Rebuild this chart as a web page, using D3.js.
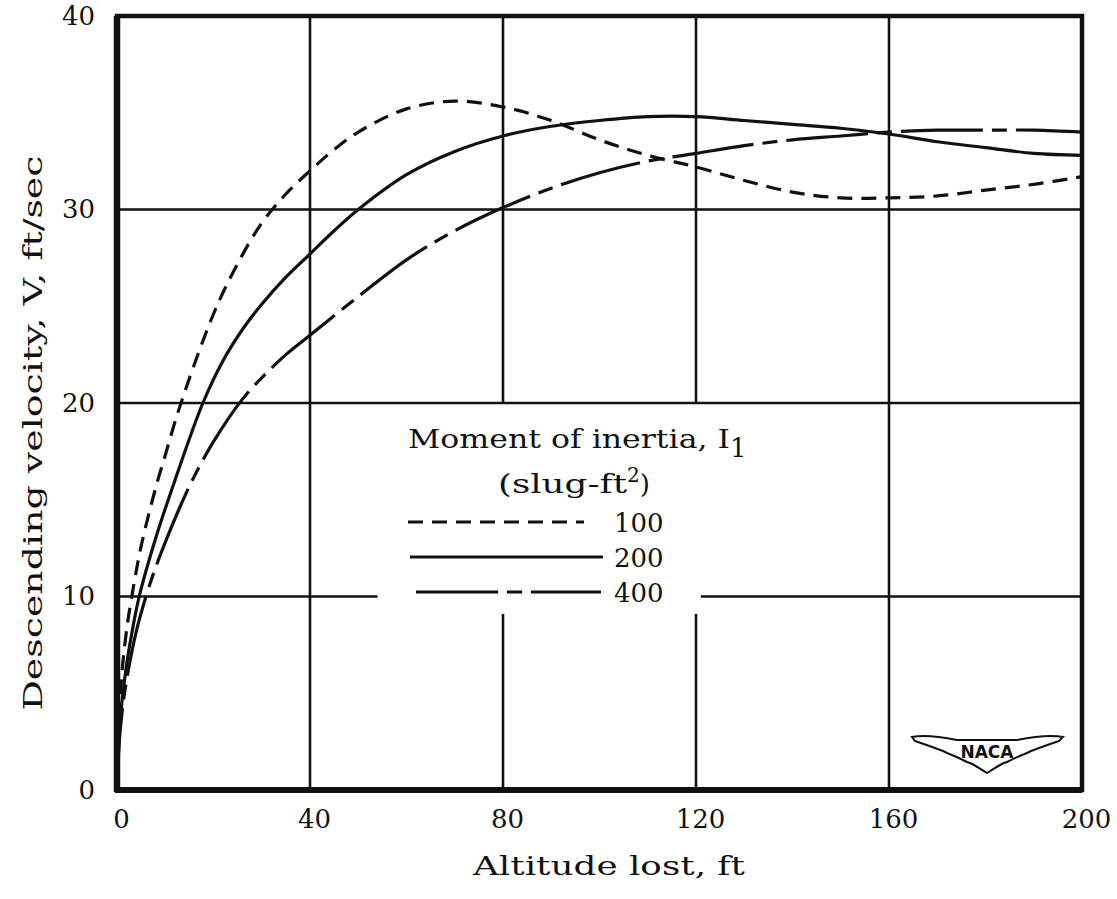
<!DOCTYPE html>
<html><head><meta charset="utf-8">
<script src="https://cdn.jsdelivr.net/npm/d3@7"></script>
<style>
html,body{margin:0;padding:0;background:#fff;}
text{font-family:"DejaVu Serif",serif;fill:#111;}
</style></head>
<body><svg id="c" width="1117" height="899"></svg>
<script>
// ---- data ----
const xTicks = [0, 40, 80, 120, 160, 200];
const yTicks = [0, 10, 20, 30, 40];
const xTitle = "Altitude lost, ft";
const yTitle = "Descending velocity, V, ft/sec";
const legendTitle = "Moment of inertia, I";
const legendUnit = "(slug-ft";
const seriesNames = ["100", "200", "400"];
const alt100 = [0,0.5,1,2,3,5,8,10,13,20,25,30,35,40,45,50,60,70,80,90,100,110,120,130,140,150,160,170,180,190,200];
const vel100 = [0,4,6,8.3,9.9,12.6,15.6,17.3,19.8,24.6,27.2,29.3,30.8,32,33.1,34,35.2,35.6,35.3,34.6,33.6,32.8,32.2,31.5,30.9,30.6,30.6,30.7,31.0,31.3,31.7];
const alt200 = [0,0.5,1,2,3,4.6,8,12,17.8,22,26,30,35,40,45,50,60,70,80,90,100,110,120,130,140,150,160,170,180,190,200];
const vel200 = [0,3,4.5,6.5,8,10,13,16,20,22.2,23.8,25.1,26.5,27.7,28.9,30,31.8,33,33.8,34.3,34.6,34.8,34.8,34.6,34.4,34.2,33.9,33.5,33.2,32.9,32.8];
const alt400 = [0,0.5,1,2,4,6,8,10,13,16,20,26,30,35,40,50,60,70,80,90,100,110,120,130,140,150,160,170,180,190,200];
const vel400 = [0,2.6,3.9,5.7,8.2,10,11.5,12.8,14.6,16.2,18,20.2,21.3,22.5,23.5,25.5,27.4,28.9,30.1,31.1,31.9,32.5,32.9,33.3,33.6,33.8,34.0,34.1,34.1,34.1,34.0];

// ---- layout ----
const svg = d3.select("#c");
const L = 117, R = 1082, T = 16, B = 790;
const x = d3.scaleLinear().domain([0, 200]).range([L, R]);
const y = d3.scaleLinear().domain([0, 40]).range([B, T]);

const series = [
  {name: seriesNames[0], xs: alt100, ys: vel100, dash: "15,9"},
  {name: seriesNames[1], xs: alt200, ys: vel200, dash: null},
  {name: seriesNames[2], xs: alt400, ys: vel400, dash: "82,9,15,9"}
];

// grid (with interruptions around the legend)
const g = svg.append("g").attr("stroke", "#111").attr("stroke-width", 2.6).attr("fill", "none");
[40, 160].forEach(v => g.append("line").attr("x1", x(v)).attr("x2", x(v)).attr("y1", y(40)).attr("y2", y(0)));
[80, 120].forEach(v => {
  g.append("line").attr("x1", x(v)).attr("x2", x(v)).attr("y1", y(40)).attr("y2", y(20));
  g.append("line").attr("x1", x(v)).attr("x2", x(v)).attr("y1", y(9.1)).attr("y2", y(0));
});
[20, 30].forEach(v => g.append("line").attr("x1", x(0)).attr("x2", x(200)).attr("y1", y(v)).attr("y2", y(v)));
g.append("line").attr("x1", x(0)).attr("x2", x(54)).attr("y1", y(10)).attr("y2", y(10));
g.append("line").attr("x1", x(121)).attr("x2", x(200)).attr("y1", y(10)).attr("y2", y(10));

// curves
const line = d3.line().x(d => x(d[0])).y(d => y(d[1])).curve(d3.curveCatmullRom.alpha(0.5));
series.forEach(s => {
  const pts = s.xs.map((v, i) => [v, s.ys[i]]);
  svg.append("path").datum(pts).attr("d", line).attr("fill", "none")
    .attr("stroke", "#111").attr("stroke-width", 3.2)
    .attr("stroke-dasharray", s.dash);
});

// frame
svg.append("rect").attr("x", L).attr("y", T).attr("width", R - L).attr("height", B - T)
  .attr("fill", "none").attr("stroke", "#111").attr("stroke-width", 4.5);
svg.append("line").attr("x1", L).attr("x2", L).attr("y1", T).attr("y2", B + 2).attr("stroke", "#111").attr("stroke-width", 6.5);
svg.append("line").attr("x1", L - 2).attr("x2", R).attr("y1", B).attr("y2", B).attr("stroke", "#111").attr("stroke-width", 6);

// axes (labels only)
const fs = 26;
const xa = svg.append("g").attr("transform", `translate(0,${B})`)
  .call(d3.axisBottom(x).tickValues(xTicks).tickSize(0).tickPadding(20).tickFormat(d3.format("d")));
xa.select(".domain").remove();
xa.selectAll("text").attr("font-size", fs).attr("fill", "#111").attr("dx", 4);
const ya = svg.append("g").attr("transform", `translate(${L},0)`)
  .call(d3.axisLeft(y).tickValues(yTicks).tickSize(0).tickPadding(22).tickFormat(d3.format("d")));
ya.select(".domain").remove();
ya.selectAll("text").attr("font-size", fs).attr("fill", "#111");

svg.append("text").attr("x", 609).attr("y", 875).attr("text-anchor", "middle").attr("font-size", fs)
  .attr("textLength", 272).attr("lengthAdjust", "spacingAndGlyphs").text(xTitle);
svg.append("text").attr("transform", "translate(42,433) rotate(-90)").attr("text-anchor", "middle")
  .attr("font-size", fs).attr("textLength", 555).attr("lengthAdjust", "spacingAndGlyphs").text(yTitle);

// legend
const lt = svg.append("text").attr("x", 408).attr("y", 448).attr("font-size", fs);
lt.append("tspan").attr("textLength", 322).attr("lengthAdjust", "spacingAndGlyphs").text(legendTitle);
lt.append("tspan").attr("font-size", fs).attr("dy", 9).text("1");
const lu = svg.append("text").attr("x", 498).attr("y", 493).attr("font-size", fs);
lu.append("tspan").attr("textLength", 129).attr("lengthAdjust", "spacingAndGlyphs").text(legendUnit);
lu.append("tspan").attr("font-size", 20).attr("dy", -11).text("2");
lu.append("tspan").attr("font-size", fs).attr("dy", 11).text(")");
const legY = [522, 557, 592];
const legX1 = [408, 410, 416], legX2 = [584, 603, 601];
series.forEach((s, i) => {
  svg.append("line").attr("x1", legX1[i]).attr("x2", legX2[i]).attr("y1", legY[i]).attr("y2", legY[i])
    .attr("stroke", "#111").attr("stroke-width", 3).attr("stroke-dasharray", s.dash);
  svg.append("text").attr("x", 614).attr("y", legY[i] + 10).attr("font-size", fs).text(s.name);
});

// NACA logo
const logo = svg.append("g").attr("transform", "translate(987,752)");
logo.append("path").attr("d",
  "M-75,-15 C-60,-18 -40,-14 -30,-12 L30,-12 C40,-14 60,-18 76,-15 L72,-11 C60,-7 52,-4 44,-1 L40,1 C32,4 26,7 20,10 L17,11 C12,13 7,17 0,21 C-7,17 -12,13 -17,11 L-20,10 C-26,7 -32,4 -40,1 L-44,-1 C-52,-4 -60,-7 -72,-11 Z")
  .attr("fill", "#fff").attr("stroke", "#111").attr("stroke-width", 2);
logo.append("text").attr("x", 0).attr("y", 6).attr("text-anchor", "middle")
  .style("font-family", "'DejaVu Sans', sans-serif").style("font-weight", "bold").attr("font-size", 17).text("NACA");
</script></body></html>
